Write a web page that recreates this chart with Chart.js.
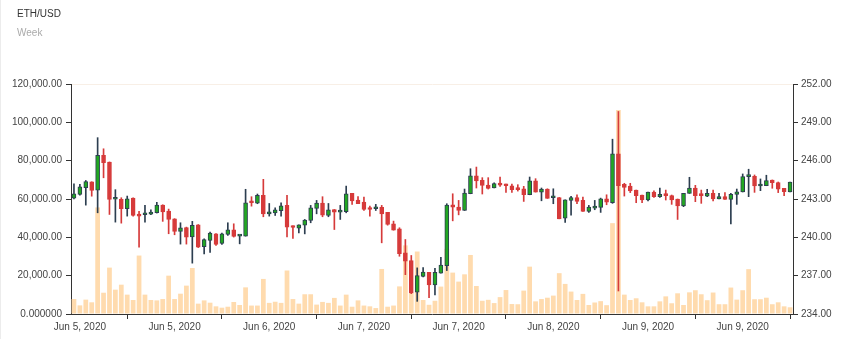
<!DOCTYPE html>
<html>
<head>
<meta charset="utf-8">
<script src="https://cdn.jsdelivr.net/npm/chart.js@4.4.1/dist/chart.umd.min.js"></script>
<style>
  html, body { margin: 0; padding: 0; background: #fff; }
  #wrap { position: relative; width: 847px; height: 339px; overflow: hidden; }
  #chart { position: absolute; left: 0; top: 0; }
  .edge { position: absolute; left: 0; top: 0; width: 1px; height: 339px; background: #ececec; }
  .title { position: absolute; left: 17px; top: 9px; font: 10px/10px "Liberation Sans", Arial, sans-serif; color: #333; }
  .sub { position: absolute; left: 17px; top: 28px; font: 10px/10px "Liberation Sans", Arial, sans-serif; color: #aaa; }
</style>
</head>
<body>
<div id="wrap">
  <canvas id="chart" width="847" height="339"></canvas>
  <div class="edge"></div>
  <div class="title">ETH/USD</div>
  <div class="sub">Week</div>
</div>
<script>
// hourly candles, Jun 5 - Jun 10
const open = [
  243.07, 243.35, 243.88, 244.35, 243.69, 246.41, 245.89, 242.98, 242.97, 242.24,
  243.08, 241.77, 241.77, 241.82, 241.93, 242.53, 242.06, 241.45, 240.46, 240.77,
  240.04, 240.98, 239.26, 239.75, 240.28, 239.52, 240.23, 240.59, 240.10, 240.09,
  242.81, 242.68, 243.28, 241.84, 241.92, 242.08, 242.50, 240.88, 240.72, 240.95,
  241.32, 242.26, 242.68, 241.71, 242.18, 241.97, 242.00, 243.44, 242.92, 242.76,
  242.31, 242.24, 242.34, 241.95, 241.06, 240.67, 238.78, 238.18, 235.70, 236.95,
  237.27, 236.27, 237.19, 237.79, 242.55, 242.37, 242.10, 243.41, 244.82, 244.46,
  244.09, 243.86, 244.22, 244.17, 244.04, 243.86, 243.80, 243.33, 244.43, 243.54,
  243.78, 243.10, 243.12, 241.50, 242.89, 243.12, 242.89, 242.03, 242.29, 242.34,
  243.02, 242.71, 246.53, 244.15, 244.02, 243.70, 243.31, 242.92, 243.55, 243.18,
  243.36, 243.26, 243.00, 242.45, 243.44, 243.86, 243.34, 243.23, 243.44, 243.00,
  243.18, 242.97, 243.36, 243.55, 244.75, 244.78, 244.02, 244.04, 244.49, 244.28,
  243.84, 243.55
];
const high = [
  244.19, 244.14, 244.45, 244.35, 247.80, 246.93, 245.90, 243.73, 243.10, 243.23,
  243.10, 242.03, 242.50, 242.16, 242.74, 242.55, 242.21, 241.46, 241.14, 240.80,
  241.25, 241.00, 239.89, 240.41, 240.30, 240.33, 241.14, 241.06, 240.15, 243.76,
  243.18, 243.39, 244.54, 242.65, 242.31, 242.71, 243.28, 240.90, 240.98, 241.40,
  242.50, 242.89, 243.18, 242.65, 242.18, 242.50, 244.01, 243.44, 243.18, 243.15,
  242.44, 242.58, 242.50, 241.95, 241.27, 240.75, 239.83, 238.58, 237.61, 237.63,
  237.27, 237.58, 238.44, 242.63, 243.41, 242.89, 243.78, 245.37, 245.50, 244.67,
  244.67, 244.27, 244.72, 244.17, 244.17, 244.12, 243.99, 244.72, 244.59, 243.86,
  243.80, 243.80, 243.12, 242.94, 243.20, 243.33, 243.15, 242.50, 242.89, 243.07,
  243.33, 247.68, 249.85, 244.23, 244.23, 243.70, 243.31, 243.55, 243.63, 243.86,
  243.70, 243.31, 243.00, 243.44, 244.70, 244.07, 243.70, 243.76, 243.70, 243.44,
  243.50, 243.44, 243.78, 244.96, 245.33, 244.88, 244.57, 244.86, 244.49, 244.33,
  243.84, 244.33
];
const low = [
  243.01, 243.30, 242.52, 243.22, 241.92, 244.66, 241.79, 241.19, 241.11, 241.66,
  241.66, 239.23, 241.19, 241.77, 241.90, 241.25, 240.28, 240.20, 239.47, 239.47,
  237.98, 239.20, 238.71, 238.81, 239.36, 239.44, 240.15, 240.02, 239.49, 240.09,
  242.44, 242.63, 241.61, 241.66, 241.71, 241.66, 240.04, 239.91, 240.35, 240.27,
  241.14, 241.84, 241.61, 241.61, 240.61, 241.40, 241.92, 242.58, 242.63, 242.10,
  241.66, 242.10, 239.57, 240.95, 240.56, 238.52, 237.08, 235.59, 234.99, 236.90,
  235.28, 235.49, 237.19, 237.40, 241.29, 241.76, 242.10, 243.41, 243.86, 243.39,
  243.78, 243.86, 243.99, 243.52, 243.52, 243.62, 242.81, 243.33, 243.54, 242.86,
  243.05, 242.63, 241.45, 241.16, 241.74, 242.63, 242.03, 241.95, 242.16, 241.95,
  242.55, 242.66, 235.80, 243.23, 243.50, 242.71, 242.71, 242.84, 243.13, 243.13,
  242.92, 242.58, 241.40, 242.40, 243.44, 242.79, 242.66, 243.18, 242.84, 243.00,
  242.97, 241.04, 242.58, 243.55, 243.18, 243.52, 243.65, 244.04, 243.84, 243.50,
  243.26, 243.55
];
const close = [
  243.41, 243.96, 244.37, 243.67, 246.41, 245.84, 242.96, 243.02, 242.24, 243.02,
  241.72, 241.66, 241.82, 241.98, 242.53, 241.98, 241.40, 240.46, 240.75, 240.02,
  240.93, 239.23, 239.83, 240.33, 239.44, 240.28, 240.59, 240.07, 240.12, 242.71,
  242.71, 243.28, 241.84, 241.97, 242.16, 242.47, 240.80, 240.77, 240.98, 241.35,
  242.31, 242.68, 241.74, 242.16, 241.97, 242.10, 243.41, 242.84, 242.63, 242.18,
  242.18, 242.34, 241.84, 241.01, 240.56, 238.73, 238.13, 235.65, 237.01, 237.29,
  236.27, 237.27, 237.82, 242.52, 242.37, 242.10, 243.46, 244.82, 244.41, 244.07,
  243.83, 244.20, 244.09, 244.04, 243.73, 243.73, 243.33, 244.43, 243.54, 243.78,
  243.05, 243.12, 241.45, 242.94, 243.12, 242.81, 242.03, 242.37, 242.39, 243.02,
  242.76, 246.53, 244.04, 243.91, 243.63, 243.26, 242.92, 243.55, 243.18, 243.36,
  243.26, 242.92, 242.45, 243.44, 243.86, 243.26, 243.26, 243.44, 243.00, 243.18,
  242.97, 243.36, 243.57, 244.75, 244.78, 244.02, 244.07, 244.44, 244.28, 243.76,
  243.57, 244.33
];
const volume = [
  7800, 4500, 7500, 6100, 55600, 11100, 24200, 12700, 15300, 10100,
  7300, 30500, 10100, 7300, 7100, 7800, 20000, 7800, 10600, 14800,
  24000, 5400, 7100, 5900, 4000, 3300, 3800, 6250, 4700, 13900,
  4400, 4400, 18300, 5800, 6400, 5800, 22700, 7800, 5400, 10300,
  10300, 4900, 6300, 5800, 8400, 4400, 10100, 3800, 7100, 4400,
  4000, 3100, 23500, 3800, 4400, 14400, 35800, 11000, 32600, 7300,
  4800, 6900, 14300, 34000, 21600, 16900, 20700, 30800, 14600, 6900,
  7400, 5700, 8800, 12500, 5200, 5100, 12200, 24700, 6600, 7800,
  8500, 9600, 21300, 15700, 11700, 7300, 10500, 4700, 6000, 6700,
  4600, 47400, 106500, 10100, 7300, 8200, 6100, 4000, 4000, 6600,
  9200, 5600, 10800, 4700, 11300, 12400, 10300, 7200, 11200, 5100,
  5100, 13800, 7500, 12400, 23400, 7700, 7700, 8500, 5100, 6100,
  4000, 3500
];
// one label every 16 hours, starting at the second candle
const tickLabels = ['Jun 5, 2020', 'Jun 5, 2020', 'Jun 6, 2020', 'Jun 7, 2020',
                    'Jun 7, 2020', 'Jun 8, 2020', 'Jun 9, 2020', 'Jun 9, 2020'];
const volTicks = [0, 20000, 40000, 60000, 80000, 100000, 120000];
const priceTicks = [234, 237, 240, 243, 246, 249, 252];

const UP = '#22a722', DOWN = '#d63a3a', EDGE = '#2c3e50', AXIS = '#333';
const FONT = { family: '"Liberation Sans", Arial, sans-serif', size: 10 };

const hours = open.map((_, i) => i);
const isUp = open.map((o, i) => close[i] >= o);
const wicks = low.map((l, i) => [l, high[i]]);
const bodies = open.map((o, i) => [o, close[i]]);

new Chart(document.getElementById('chart'), {
  type: 'bar',
  data: {
    labels: hours,
    datasets: [
      {
        label: 'Volume', data: volume, yAxisID: 'yVol', order: 3, grouped: false,
        backgroundColor: '#ffdbae', barPercentage: 0.8, categoryPercentage: 1
      },
      {
        label: 'Range', data: wicks, yAxisID: 'yPrice', order: 2, grouped: false,
        backgroundColor: isUp.map(u => u ? EDGE : DOWN), barThickness: 1
      },
      {
        label: 'OHLC', data: bodies, yAxisID: 'yPrice', order: 1, grouped: false,
        backgroundColor: isUp.map(u => u ? UP : DOWN),
        borderColor: isUp.map(u => u ? EDGE : DOWN),
        borderWidth: 1, borderSkipped: false, barThickness: 4, minBarLength: 2
      }
    ]
  },
  options: {
    responsive: false,
    animation: false,
    layout: { padding: { top: 84, left: 0, right: 0, bottom: 0 } },
    plugins: { legend: { display: false }, tooltip: { enabled: false } },
    scales: {
      x: {
        offset: true,
        border: { color: AXIS, width: 1 },
        grid: {
          offset: false, drawOnChartArea: false, tickLength: 5,
          tickColor: ctx => (ctx.index - 9) % 16 === 0 ? AXIS : 'rgba(0,0,0,0)'
        },
        ticks: {
          autoSkip: false, maxRotation: 0, minRotation: 0, padding: 2,
          color: '#444', font: FONT,
          callback: (v, i) => (i - 1) % 16 === 0 ? tickLabels[(i - 1) / 16] : ''
        },
        afterFit: s => { s.height = 25; }
      },
      yVol: {
        position: 'left', min: 0, max: 120000,
        border: { color: AXIS, width: 1 },
        grid: {
          drawOnChartArea: true, tickLength: 5, tickColor: AXIS,
          color: ctx => ctx.tick && ctx.tick.value === 120000 ? '#f8efe6' : 'rgba(0,0,0,0)'
        },
        afterBuildTicks: s => { s.ticks = volTicks.map(v => ({ value: v })); },
        ticks: {
          padding: 4, color: '#444', font: FONT,
          callback: v => v === 0 ? '0.000000'
            : v.toLocaleString('en-US', { minimumFractionDigits: 2, maximumFractionDigits: 2 })
        },
        afterFit: s => { s.width = 71; }
      },
      yPrice: {
        position: 'right', min: 234, max: 252,
        border: { color: AXIS, width: 1 },
        grid: { drawOnChartArea: false, tickLength: 5, tickColor: AXIS },
        afterBuildTicks: s => { s.ticks = priceTicks.map(v => ({ value: v })); },
        ticks: { padding: 3, color: '#444', font: FONT, callback: v => v.toFixed(2) },
        afterFit: s => { s.width = 54; }
      }
    }
  }
});
</script>
</body>
</html>
